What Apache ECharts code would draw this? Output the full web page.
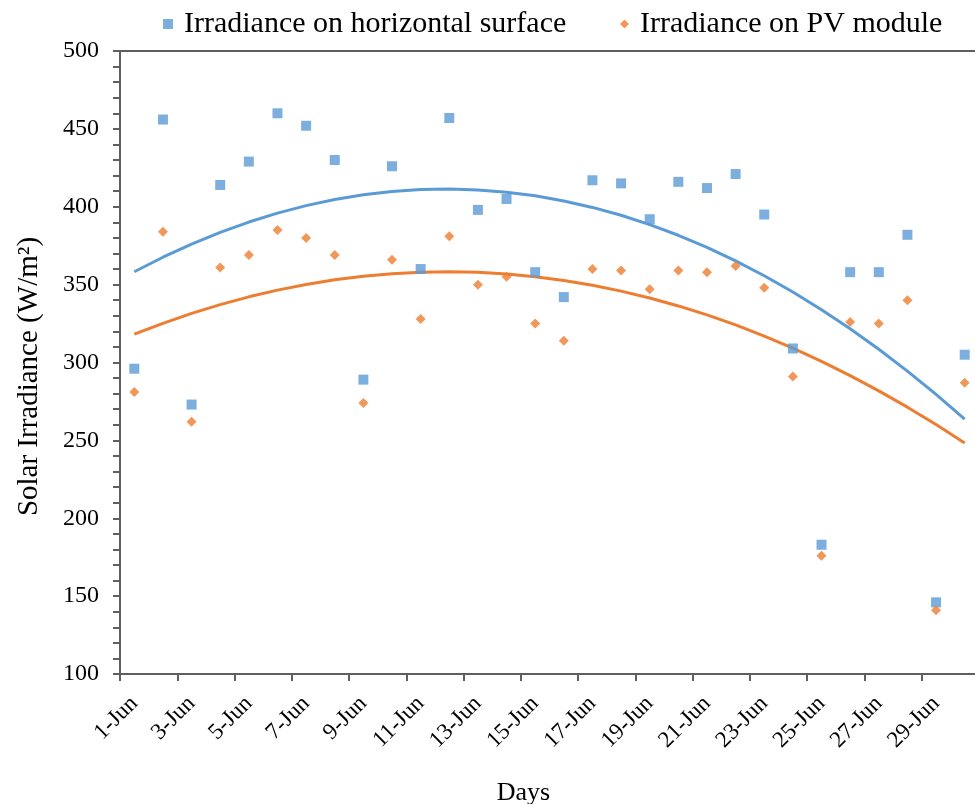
<!DOCTYPE html>
<html><head><meta charset="utf-8">
<script src="https://cdn.jsdelivr.net/npm/echarts@6/dist/echarts.min.js"></script>
<style>html,body{margin:0;padding:0;background:#fff}#c{width:975px;height:804px}</style>
</head><body><div id="c"></div>
<script>
const days = ['1-Jun','2-Jun','3-Jun','4-Jun','5-Jun','6-Jun','7-Jun','8-Jun','9-Jun','10-Jun',
  '11-Jun','12-Jun','13-Jun','14-Jun','15-Jun','16-Jun','17-Jun','18-Jun','19-Jun','20-Jun',
  '21-Jun','22-Jun','23-Jun','24-Jun','25-Jun','26-Jun','27-Jun','28-Jun','29-Jun','30-Jun'];
const horizontal = [296,456,273,414,429,460,452,430,289,426,360,457,398,405,358,342,417,415,392,416,412,421,395,309,183,358,358,382,146,305];
const pvModule = [281,384,262,361,369,385,380,369,274,366,328,381,350,355,325,314,360,359,347,359,358,362,348,291,176,326,325,340,141,287];
const seriesNames = ['Irradiance on horizontal surface', 'Irradiance on PV module'];
const yMin = 100, yMax = 500, yStep = 50;

// 2nd-order polynomial least-squares trend line (as Excel's trendline), x = 1..n
function quadTrend(ys) {
  const n = ys.length;
  let s = [0,0,0,0,0], t = [0,0,0];
  for (let i = 0; i < n; i++) {
    const x = i + 1, y = ys[i];
    let p = 1;
    for (let k = 0; k < 5; k++) { s[k] += p; if (k < 3) t[k] += p * y; p *= x; }
  }
  const A = [[s[0],s[1],s[2],t[0]],[s[1],s[2],s[3],t[1]],[s[2],s[3],s[4],t[2]]];
  for (let c = 0; c < 3; c++) {
    for (let r = c + 1; r < 3; r++) {
      const f = A[r][c] / A[c][c];
      for (let k = c; k < 4; k++) A[r][k] -= f * A[c][k];
    }
  }
  const coef = [0,0,0];
  for (let r = 2; r >= 0; r--) {
    let v = A[r][3];
    for (let k = r + 1; k < 3; k++) v -= A[r][k] * coef[k];
    coef[r] = v / A[r][r];
  }
  return ys.map((_, i) => { const x = i + 1; return coef[0] + coef[1]*x + coef[2]*x*x; });
}

const BLUE = '#5B9BD5', ORANGE = '#ED7D31', AXIS = '#5f5f5f';
const FONT = '"Liberation Serif", "Times New Roman", serif';

const chart = echarts.init(document.getElementById('c'), null, {renderer: 'canvas'});
chart.setOption({
  animation: false,
  backgroundColor: '#fff',
  textStyle: {fontFamily: FONT, color: '#000'},
  grid: {left: 120, top: 51, width: 859, height: 623, outerBoundsMode: 'none', containLabel: false},
  legend: [
    {left: 158, top: 4, itemWidth: 10, itemHeight: 10, icon: 'rect',
     data: [seriesNames[0]], textStyle: {fontFamily: FONT, fontSize: 30, color: '#000', padding: [0,0,0,6]}},
    {left: 615, top: 4, itemWidth: 9, itemHeight: 9, icon: 'diamond',
     data: [seriesNames[1]], textStyle: {fontFamily: FONT, fontSize: 30, color: '#000', padding: [0,0,0,6]}}
  ],
  xAxis: [{
    type: 'category', data: days, boundaryGap: true, position: 'bottom',
    name: 'Days', nameLocation: 'middle', nameGap: 106,
    nameTextStyle: {fontFamily: FONT, fontSize: 26, color: '#000', padding: [0, 52, 0, 0]},
    axisLine: {lineStyle: {color: AXIS, width: 2}},
    axisTick: {show: true, interval: 1, length: 7, lineStyle: {color: AXIS, width: 2}},
    axisLabel: {interval: 1, rotate: 45, margin: 26, fontFamily: FONT, fontSize: 23, color: '#000'},
    splitLine: {show: false}
  }, {
    type: 'category', data: days, boundaryGap: true, position: 'top',
    axisLine: {show: true, lineStyle: {color: AXIS, width: 2}},
    axisTick: {show: false}, axisLabel: {show: false}, splitLine: {show: false}
  }],
  yAxis: {
    type: 'value', min: yMin, max: yMax, interval: yStep,
    name: 'Solar Irradiance (W/m²)', nameLocation: 'middle', nameGap: 76,
    nameTextStyle: {fontFamily: FONT, fontSize: 29, color: '#000', padding: [0, 28, 0, 0]},
    axisLine: {show: true, lineStyle: {color: AXIS, width: 2}},
    axisTick: {show: true, length: 7, lineStyle: {color: AXIS, width: 2}},
    minorTick: {show: true, splitNumber: 5, length: 7, lineStyle: {color: AXIS, width: 2}},
    axisLabel: {margin: 21, fontFamily: FONT, fontSize: 24, color: '#000'},
    splitLine: {show: false}
  },
  series: [
    {name: seriesNames[0], type: 'scatter', data: horizontal, symbol: 'rect', symbolSize: 10,
     itemStyle: {color: BLUE}, z: 3},
    {name: seriesNames[1], type: 'scatter', data: pvModule, symbol: 'diamond', symbolSize: 10,
     itemStyle: {color: ORANGE}, z: 4},
    {name: 'Poly. (' + seriesNames[0] + ')', type: 'line', data: quadTrend(horizontal), showSymbol: false,
     lineStyle: {color: BLUE, width: 3}, itemStyle: {color: BLUE}, z: 2},
    {name: 'Poly. (' + seriesNames[1] + ')', type: 'line', data: quadTrend(pvModule), showSymbol: false,
     lineStyle: {color: ORANGE, width: 3}, itemStyle: {color: ORANGE}, z: 2}
  ]
});
</script></body></html>
